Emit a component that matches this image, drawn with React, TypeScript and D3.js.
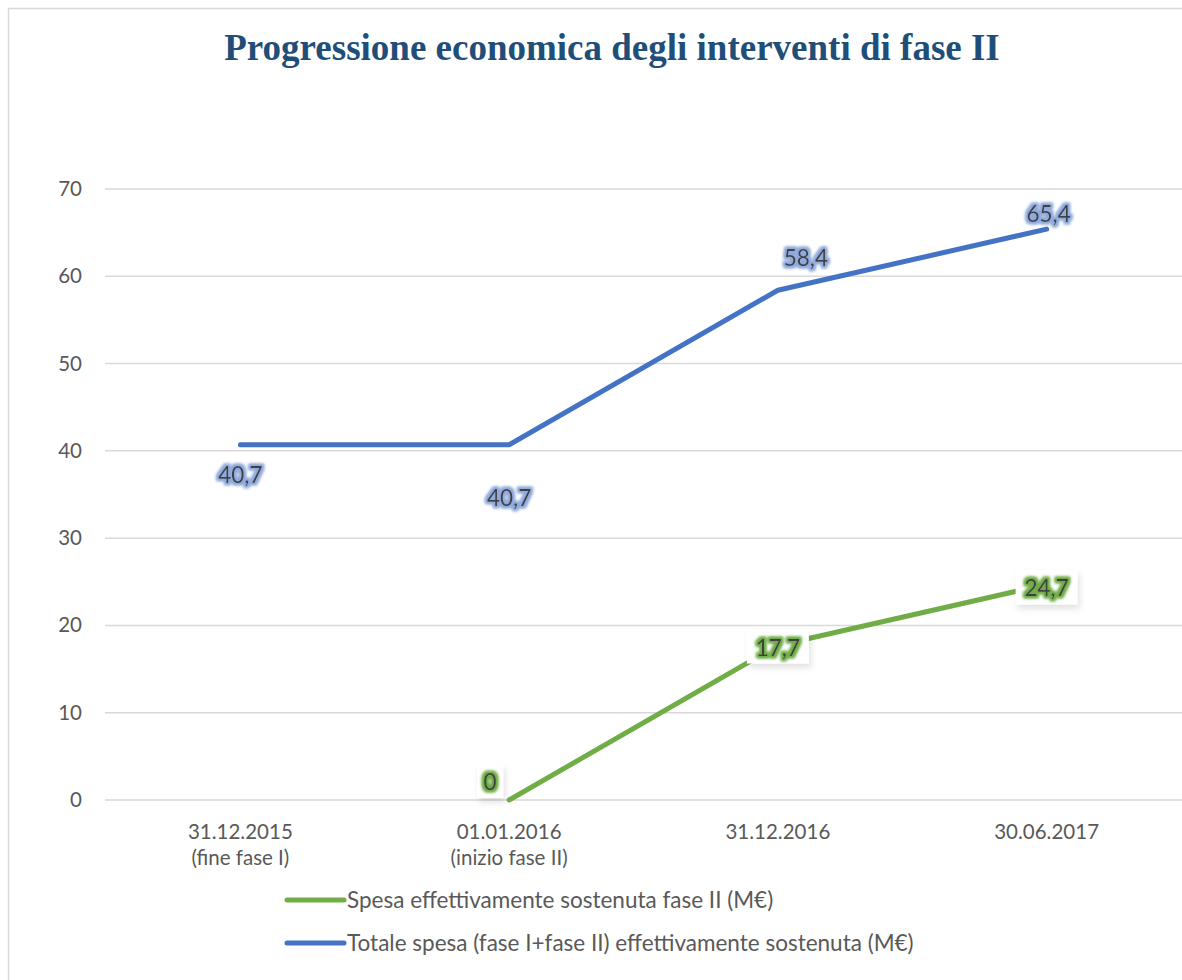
import React from "react";
import * as d3 from "d3";

const categories = ["31.12.2015\n(fine fase I)", "01.01.2016\n(inizio fase II)", "31.12.2016", "30.06.2017"];
const totaleSpesa = [40.7, 40.7, 58.4, 65.4];
const spesaFase2: (number | null)[] = [null, 0, 17.7, 24.7];
const yTicks = [0, 10, 20, 30, 40, 50, 60, 70];
const seriesNames = [
  "Spesa effettivamente sostenuta fase II (M€)",
  "Totale spesa (fase I+fase II) effettivamente sostenuta (M€)",
];
// label offsets relative to the point (style only)
const blueLabelOffsets = [[0, 38], [0, 61], [28, -24], [2, -7]];
const greenLabelOffsets = [[0, 0], [-19, -10], [0, 10], [0, 12]];

const W = 1182;
const H = 980;
const FONT = "Lato, 'Open Sans', sans-serif";
const BLUE = "#4472C4";
const GREEN = "#70AD47";

export default function App() {
  const x = d3.scaleBand<string>().domain(categories).range([106, 1181]).padding(0);
  const y = d3.scaleLinear().domain([0, 70]).range([800, 189]);
  const cx = (i: number) => (x(categories[i]) as number) + x.bandwidth() / 2;

  const line = d3
    .line<{ i: number; v: number | null }>()
    .defined((d) => d.v !== null)
    .x((d) => cx(d.i))
    .y((d) => y(d.v as number));

  const blueData = totaleSpesa.map((v, i) => ({ i, v }));
  const greenData = spesaFase2.map((v, i) => ({ i, v }));

  const label = (v: number) => String(v).replace(".", ",");

  return (
    <>
      <style>{"html,body{margin:0;padding:0;overflow:hidden;}"}</style>
      <svg width={W} height={H} style={{ position: "absolute", left: 0, top: 0, display: "block", background: "#fff" }}>
        <defs>
          <filter id="glowBlue" x="-30%" y="-50%" width="160%" height="200%">
            <feMorphology in="SourceAlpha" operator="dilate" radius="1.5" result="d" />
            <feGaussianBlur in="d" stdDeviation="1.8" result="b" />
            <feFlood floodColor="#8FAADC" result="c" />
            <feComposite in="c" in2="b" operator="in" result="g" />
            <feMerge>
              <feMergeNode in="g" />
              <feMergeNode in="g" />
              <feMergeNode in="SourceGraphic" />
            </feMerge>
          </filter>
          <filter id="glowGreen" x="-30%" y="-50%" width="160%" height="200%">
            <feMorphology in="SourceAlpha" operator="dilate" radius="1.5" result="d" />
            <feGaussianBlur in="d" stdDeviation="1.8" result="b" />
            <feFlood floodColor="#70AD47" result="c" />
            <feComposite in="c" in2="b" operator="in" result="g" />
            <feMerge>
              <feMergeNode in="g" />
              <feMergeNode in="g" />
              <feMergeNode in="SourceGraphic" />
            </feMerge>
          </filter>
          <filter id="boxShadow" x="-50%" y="-50%" width="200%" height="200%">
            <feDropShadow dx="2" dy="4" stdDeviation="3" floodColor="#000" floodOpacity="0.12" />
          </filter>
        </defs>

        <rect x={8.5} y={8.5} width={1200} height={1000} fill="#fff" stroke="#D9D9D9" strokeWidth={1.5} />

        <text
          x={612}
          y={60}
          textAnchor="middle"
          fontFamily="'Liberation Serif', 'Times New Roman', serif"
          fontWeight="bold"
          fontSize={37}
          fill="#1F4E79"
        >
          Progressione economica degli interventi di fase II
        </text>

        {yTicks.map((t) => (
          <g key={t}>
            <line x1={105} x2={1182} y1={y(t)} y2={y(t)} stroke="#D9D9D9" strokeWidth={1.5} />
            <text x={82} y={y(t) + 7} textAnchor="end" fontFamily={FONT} fontSize={20.5} fill="#595959">
              {t}
            </text>
          </g>
        ))}

        {categories.map((c, i) => (
          <text key={c} x={cx(i)} y={839} textAnchor="middle" fontFamily={FONT} fontSize={20.5} fill="#595959">
            {c.split("\n").map((s, k) => (
              <tspan key={k} x={cx(i)} dy={k === 0 ? 0 : 26}>
                {s}
              </tspan>
            ))}
          </text>
        ))}

        <path d={line(blueData) || ""} fill="none" stroke={BLUE} strokeWidth={5} strokeLinecap="round" strokeLinejoin="round" />
        <path d={line(greenData) || ""} fill="none" stroke={GREEN} strokeWidth={5} strokeLinecap="round" strokeLinejoin="round" />

        {totaleSpesa.map((v, i) => (
          <text
            key={"b" + i}
            x={cx(i) + blueLabelOffsets[i][0]}
            y={y(v) + blueLabelOffsets[i][1]}
            textAnchor="middle"
            fontFamily={FONT}
            fontSize={22.5}
            fill="#404040"
            filter="url(#glowBlue)"
          >
            {label(v)}
          </text>
        ))}

        {spesaFase2.map((v, i) => {
          if (v === null) return null;
          const lx = cx(i) + greenLabelOffsets[i][0];
          const ly = y(v) + greenLabelOffsets[i][1];
          const w = label(v).length * 12 + 14;
          return (
            <g key={"g" + i}>
              <rect x={lx - w / 2} y={ly - 26} width={w} height={34} fill="#fff" filter="url(#boxShadow)" />
              <text x={lx} y={ly} textAnchor="middle" fontFamily={FONT} fontSize={22.5} fill="#404040" filter="url(#glowGreen)">
                {label(v)}
              </text>
            </g>
          );
        })}

        {seriesNames.map((name, k) => {
          const ly = 900 + k * 43;
          return (
            <g key={name}>
              <line x1={287} x2={344} y1={ly} y2={ly} stroke={k === 0 ? GREEN : BLUE} strokeWidth={5} strokeLinecap="round" />
              <text x={347} y={ly + 8} fontFamily={FONT} fontSize={22.5} fill="#595959">
                {name}
              </text>
            </g>
          );
        })}
      </svg>
    </>
  );
}
